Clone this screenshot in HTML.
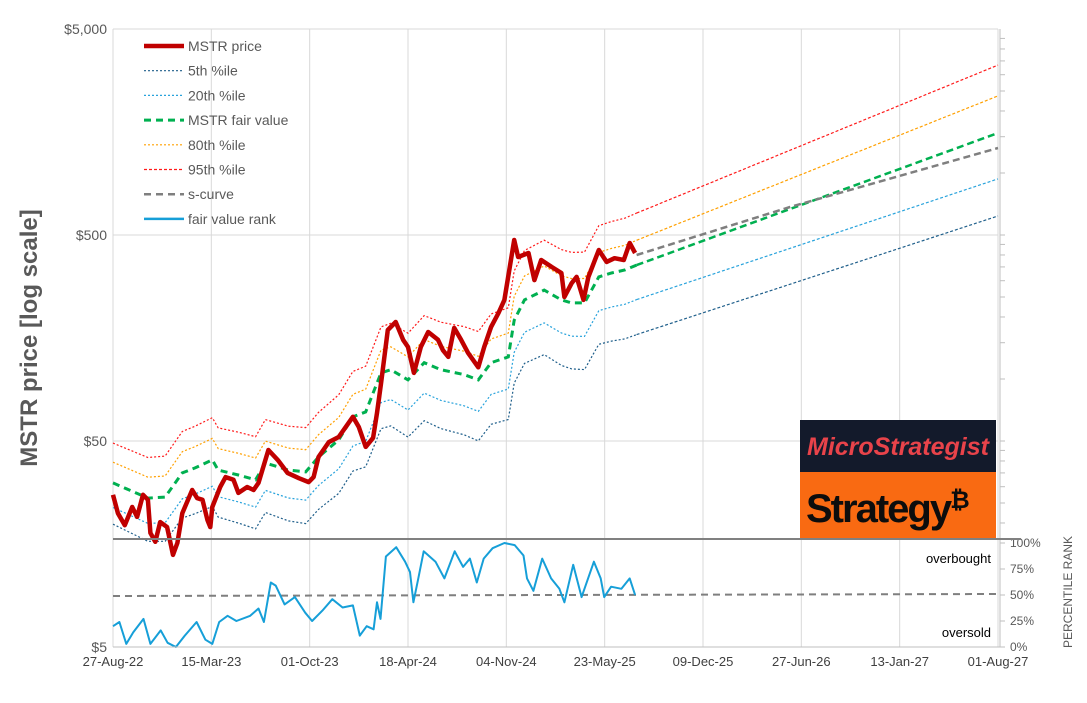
<!DOCTYPE html>
<html><head><meta charset="utf-8"><title>MSTR price vs fair value</title>
<style>
html,body{margin:0;padding:0;background:#fff;}
svg{display:block;font-family:"Liberation Sans",sans-serif;}
</style></head>
<body>
<svg id="chart" width="1087" height="703" viewBox="0 0 1087 703" xmlns="http://www.w3.org/2000/svg">
<g id="grid"></g>
<g id="series"></g>
<g id="axes"></g>
<g>
  <rect x="800" y="420" width="196" height="52" fill="#131a2b"/>
  <text x="898" y="455" text-anchor="middle" font-size="25" font-weight="bold" font-style="italic" fill="#e8434a">MicroStrategist</text>
  <rect x="800" y="472" width="196" height="66" fill="#f96a12"/>
  <text x="806" y="522" font-size="40" font-weight="bold" fill="#0d0d0d" letter-spacing="-2">Strategy<tspan font-size="24" dy="-14">₿</tspan></text>
</g>
<text transform="translate(37,338) rotate(-90)" text-anchor="middle" font-size="24" font-weight="bold" fill="#595959">MSTR price [log scale]</text>
<text transform="translate(1072,592) rotate(-90)" text-anchor="middle" font-size="12" fill="#595959">PERCENTILE RANK</text>
<text x="991" y="563" text-anchor="end" font-size="13" fill="#000">overbought</text>
<text x="991" y="637" text-anchor="end" font-size="13" fill="#000">oversold</text>
<g id="legend"></g>
</svg>
<script>
// ---- data ----
const xTickLabels = ["27-Aug-22","15-Mar-23","01-Oct-23","18-Apr-24","04-Nov-24","23-May-25","09-Dec-25","27-Jun-26","13-Jan-27","01-Aug-27"];
const xTickDays = [0,200,400,600,800,1000,1200,1400,1600,1800];
const yTickLabels = ["$5","$50","$500","$5,000"];
const yTickValues = [5,50,500,5000];
const rankTickLabels = ["0%","25%","50%","75%","100%"];
const rankTickValues = [0,25,50,75,100];

const priceDays = [0,10,24,39,49,61,71,76,86,96,110,122,131,141,161,171,182,192,198,202,218,229,245,255,273,286,296,316,335,355,378,398,408,418,439,459,488,500,514,529,537,545,559,575,590,600,612,626,641,661,671,682,694,708,722,743,755,769,784,796,806,816,824,845,857,871,892,912,918,933,943,957,967,988,1004,1020,1039,1051,1062];
const priceValues = [27.4,22.3,19.5,23.9,21.4,27.4,25.9,17.9,16.2,20.2,19.1,14.0,16.0,22.3,28.9,26.4,25.9,20.7,19.1,23.9,29.9,33.4,32.4,28.0,29.9,28.9,31.3,45.2,40.5,35.0,33.0,31.6,33.4,41.8,49.4,52.3,65.5,58.5,46.8,51.8,68.4,95,173,189,155,143,107,143,169,155,138,128,177,155,134,114,143,179,209,242,338,473,391,409,302,378,350,327,250,292,313,242,313,423,370,386,378,457,409];

const fairDays = [0,71,106,141,167,202,214,255,290,310,357,392,418,459,488,514,545,565,600,633,667,714,743,769,804,816,837,877,912,933,959,988,1014,1041,1065];
const fairValues = [31.3,26.4,26.7,35.0,37.0,40.5,36.1,34.2,32.4,39.1,36.1,35.4,41.8,50.6,65.5,69.2,107,111,99,120,111,105,99,120,128,193,242,270,242,234,234,313,327,338,357];

const bandNames = ["5th %ile","20th %ile","80th %ile","95th %ile"];
const bandRatioStart = [0.63,0.76,1.26,1.56];
const bandRatioNow = [0.46,0.68,1.32,1.79];
const projDays = [1065,1800];
const projFair = [357,1563];
const projBandEnd = [618,936,2366,3340];
const scurveDays = [1065,1377,1800];
const scurveValues = [400,684,1322];

const rankDays = [0,13,27,41,62,76,97,111,128,146,170,188,202,216,233,251,279,296,307,321,331,349,370,391,405,426,446,467,488,502,516,530,537,544,555,576,594,604,611,621,632,656,674,695,712,726,740,754,772,796,817,835,842,855,873,891,908,918,936,953,978,992,999,1013,1034,1051,1062];
const rankValues = [20,24,3,14,27,3,16,4,0,11,24,7,3,24,30,25,30,37,24,62,59,41,48,33,25,35,46,38,40,11,20,17,43,27,87,96,82,72,43,66,92,82,66,92,77,85,62,85,95,100,98,88,66,54,85,66,56,43,79,48,82,66,48,58,56,66,50];
const scurveRankDays = [0,1800];
const scurveRankValues = [49,51];

// ---- scales ----
const X0=113, X1=998, YTOP=29, YBOT=647, DEC=206;
const xs = d => X0 + d/1800*(X1-X0);
const ys = v => YBOT - (Math.log10(v) - Math.log10(5))*DEC;
const yr = r => 647 - r/100*104;
const NS="http://www.w3.org/2000/svg";
function mk(tag, attrs, parent){const e=document.createElementNS(NS,tag);for(const k in attrs)e.setAttribute(k,attrs[k]);parent.appendChild(e);return e;}
const grid=document.getElementById('grid'), ser=document.getElementById('series'), axes=document.getElementById('axes'), leg=document.getElementById('legend');

// grid
xTickDays.forEach((d,i)=>{
  const l=mk('line',{x1:xs(d),x2:xs(d),y1:YTOP,y2:YBOT,stroke:'#d9d9d9','stroke-width':1},grid);
  
  
  const t=mk('text',{x:xs(d),y:666,'text-anchor':'middle','font-size':13,fill:'#404040'},axes);
  t.textContent=xTickLabels[i];
  
  
});
yTickValues.forEach((v,i)=>{
  if(v>5){const l=mk('line',{x1:X0,x2:X1,y1:ys(v),y2:ys(v),stroke:'#d9d9d9','stroke-width':1},grid);
  
  }
  const t=mk('text',{x:107,y:ys(v)+5,'text-anchor':'end','font-size':14,fill:'#595959'},axes);
  t.textContent=yTickLabels[i];
  
  
});
// right axis with minor log ticks
const ra=mk('line',{x1:1000,x2:1000,y1:YTOP,y2:YBOT,stroke:'#bfbfbf','stroke-width':1},axes);


for(let dec=5;dec<5000;dec*=10){for(let m=1;m<10;m++){const v=dec*m;if(v>5000)break;const y=ys(v);if(y<540){
  const tk=mk('line',{x1:1000,x2:1005,y1:y,y2:y,stroke:'#bfbfbf'},axes);
  
  }}}
const ba=mk('line',{x1:X0,x2:1000,y1:YBOT,y2:YBOT,stroke:'#bfbfbf'},axes);


rankTickValues.forEach((r,i)=>{
  const tk=mk('line',{x1:1000,x2:1005,y1:yr(r),y2:yr(r),stroke:'#bfbfbf'},axes);
  
  
  const t=mk('text',{x:1010,y:yr(r)+4,'font-size':12,fill:'#595959'},axes);
  t.textContent=rankTickLabels[i];
  
  
});
const sep=mk('line',{x1:X0,x2:1021,y1:539,y2:539,stroke:'#808080','stroke-width':2},axes);



function path(ds, vs, yf){return ds.map((d,i)=>(i?'L':'M')+xs(d).toFixed(1)+','+yf(vs[i]).toFixed(1)).join('');}
const bandColors=['#1f5f8b','#29a3dc','#ffa000','#ff1a1a'];
// historical bands
bandNames.forEach((n,b)=>{
  const vals=fairDays.map((d,i)=>{const f=d/1065;const lr=Math.log(bandRatioStart[b])*(1-f)+Math.log(bandRatioNow[b])*f;return fairValues[i]*Math.exp(lr);});
  const p=mk('path',{d:path(fairDays,vals,ys),fill:'none',stroke:bandColors[b],'stroke-width':1.2,'stroke-dasharray':'2,2'},ser);
  
  
  const pv=[projFair[0]*bandRatioNow[b],projBandEnd[b]];
  const q=mk('path',{d:path(projDays,pv,ys),fill:'none',stroke:bandColors[b],'stroke-width':1.2,'stroke-dasharray':'3,2'},ser);
  
  
});
const fv=mk('path',{d:path(fairDays,fairValues,ys),fill:'none',stroke:'#00b050','stroke-width':3,'stroke-dasharray':'7,5'},ser);


const fp=mk('path',{d:path(projDays,projFair,ys),fill:'none',stroke:'#00b050','stroke-width':2.5,'stroke-dasharray':'7,4'},ser);


const sc=mk('path',{d:path(scurveDays,scurveValues,ys),fill:'none',stroke:'#7f7f7f','stroke-width':2.5,'stroke-dasharray':'7,4'},ser);


const pr=mk('path',{d:path(priceDays,priceValues,ys),fill:'none',stroke:'#c00000','stroke-width':4.5,'stroke-linejoin':'round'},ser);


const sr=mk('path',{d:path(scurveRankDays,scurveRankValues,yr),fill:'none',stroke:'#7f7f7f','stroke-width':2,'stroke-dasharray':'7,5'},ser);


const rk=mk('path',{d:path(rankDays,rankValues,yr),fill:'none',stroke:'#169fd8','stroke-width':2,'stroke-linejoin':'round'},ser);



// legend
const legItems=[["MSTR price",'#c00000',4.5,''],["5th %ile",bandColors[0],1.2,'2,2'],["20th %ile",bandColors[1],1.2,'2,2'],["MSTR fair value",'#00b050',3,'7,5'],["80th %ile",bandColors[2],1.2,'2,2'],["95th %ile",bandColors[3],1.2,'3,2'],["s-curve",'#7f7f7f',2.5,'7,5'],["fair value rank",'#169fd8',2.5,'']];
legItems.forEach((it,i)=>{
  const y=46+i*24.7;
  const g=mk('g',{},leg);
  
  
  const a={x1:144,x2:184,y1:y,y2:y,stroke:it[1],'stroke-width':it[2]};
  if(it[3])a['stroke-dasharray']=it[3];
  mk('line',a,g);
  const t=mk('text',{x:188,y:y+5,'font-size':14,fill:'#595959'},g);
  t.textContent=it[0];
});
</script>
</body></html>
